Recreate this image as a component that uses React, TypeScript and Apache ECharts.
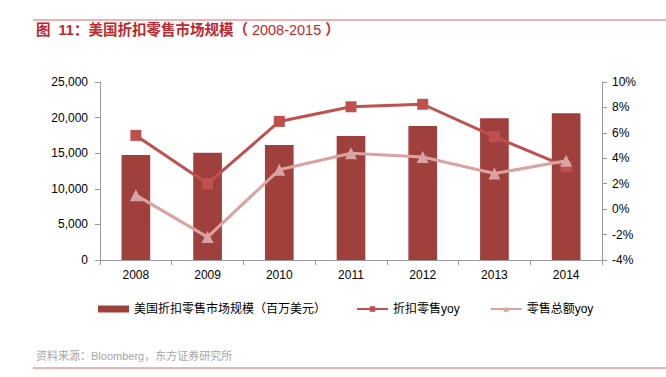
import React, { useEffect, useRef } from "react";
import * as echarts from "echarts";

const years = ["2008", "2009", "2010", "2011", "2012", "2013", "2014"];
const marketSize = [14750, 15070, 16150, 17400, 18820, 19900, 20600];
const discountYoy = [5.8, 2.0, 6.9, 8.05, 8.25, 5.7, 3.35];
const totalYoy = [1.1, -2.2, 3.1, 4.4, 4.1, 2.8, 3.8];

const seriesNames = ["美国折扣零售市场规模（百万美元）", "折扣零售yoy", "零售总额yoy"];
const titleText = "{b|图  11：美国折扣零售市场规模（}{n| 2008-2015 }{b|）}";
const sourceText = "资料来源：Bloomberg，东方证券研究所";

const FONT = "'Liberation Sans', 'Noto Sans CJK SC', sans-serif";

export default function App() {
  const ref = useRef<HTMLDivElement>(null);
  useEffect(() => {
    const chart = echarts.init(ref.current!, undefined, { renderer: "svg" });
    chart.setOption({
      animation: false,
      textStyle: { fontFamily: FONT },
      graphic: [
        { type: "line", shape: { x1: 33, y1: 20, x2: 666, y2: 20 }, style: { stroke: "#e06666", lineWidth: 1 } },
        {
          type: "text",
          left: 36,
          top: 23,
          style: {
            text: titleText,
            rich: {
              b: { fill: "#c0272d", fontSize: 14.5, fontWeight: "bold", fontFamily: FONT },
              n: { fill: "#c0272d", fontSize: 14.5, fontWeight: "normal", fontFamily: FONT },
            },
          },
        },
        {
          type: "text",
          left: 36,
          top: 350,
          style: { text: sourceText, fill: "#a6a6a6", font: `11px ${FONT}` },
        },
        { type: "line", shape: { x1: 33, y1: 368, x2: 666, y2: 368 }, style: { stroke: "#e06666", lineWidth: 1 } },
      ],
      legend: {
        top: 298,
        left: 93,
        itemGap: 30,
        itemWidth: 31,
        itemHeight: 7,
        textStyle: { fontSize: 12, color: "#000", fontFamily: FONT },
        data: [
          { name: seriesNames[0], icon: "rect" },
          { name: seriesNames[1] },
          { name: seriesNames[2] },
        ],
      },
      grid: { left: 100, right: 64, top: 82, bottom: 117 },
      xAxis: {
        type: "category",
        data: years,
        axisLine: { lineStyle: { color: "#999" } },
        axisTick: { show: true, lineStyle: { color: "#999" } },
        axisLabel: { color: "#000", fontSize: 12, margin: 9 },
      },
      yAxis: [
        {
          type: "value",
          min: 0,
          max: 25000,
          interval: 5000,
          axisLine: { show: true, lineStyle: { color: "#999" } },
          axisTick: { show: true, lineStyle: { color: "#999" } },
          splitLine: { show: false },
          axisLabel: {
            color: "#000",
            fontSize: 12,
            margin: 12,
            formatter: (v: number) => v.toLocaleString("en-US"),
          },
        },
        {
          type: "value",
          min: -4,
          max: 10,
          interval: 2,
          position: "right",
          axisLine: { show: true, lineStyle: { color: "#999" } },
          axisTick: { show: true, lineStyle: { color: "#999" } },
          splitLine: { show: false },
          axisLabel: { color: "#000", fontSize: 12, margin: 10, formatter: "{value}%" },
        },
      ],
      series: [
        {
          name: seriesNames[0],
          type: "bar",
          data: marketSize,
          barWidth: "40%",
          itemStyle: { color: "#a0403c" },
        },
        {
          name: seriesNames[1],
          type: "line",
          yAxisIndex: 1,
          data: discountYoy,
          symbol: "rect",
          symbolSize: 11,
          lineStyle: { color: "#c0504d", width: 3 },
          itemStyle: { color: "#c0504d" },
          z: 3,
        },
        {
          name: seriesNames[2],
          type: "line",
          yAxisIndex: 1,
          data: totalYoy,
          symbol: "triangle",
          symbolSize: 12,
          lineStyle: { color: "#d9a3a1", width: 3 },
          itemStyle: { color: "#d9a3a1" },
          z: 4,
        },
      ],
    });
    return () => chart.dispose();
  }, []);
  return <div ref={ref} style={{ width: 666, height: 377, position: "absolute", left: 0, top: 0 }} />;
}
